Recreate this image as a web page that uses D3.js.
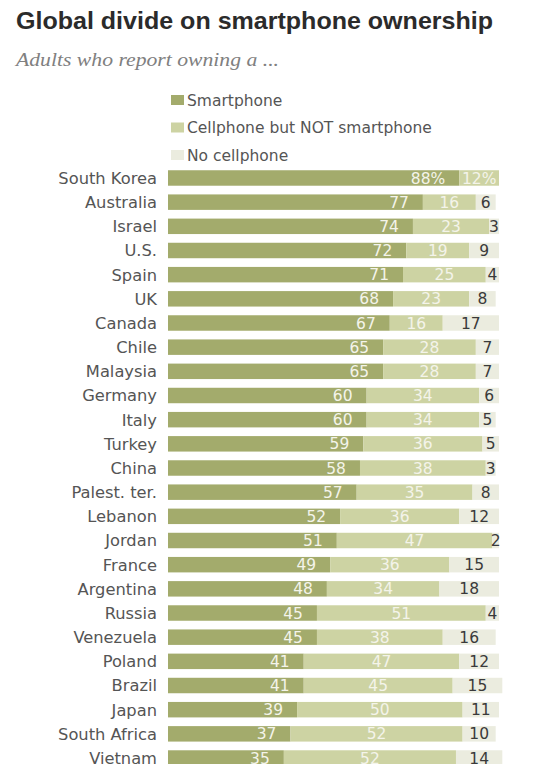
<!DOCTYPE html>
<html>
<head>
<meta charset="utf-8">
<script src="https://cdn.jsdelivr.net/npm/d3@7"></script>
<style>
  html, body { margin: 0; padding: 0; background: #ffffff; }
  svg { display: block; }
</style>
</head>
<body>
<div id="chart"></div>
<script>
// ---- Data ----
const countries = ["South Korea","Australia","Israel","U.S.","Spain","UK","Canada","Chile","Malaysia","Germany","Italy","Turkey","China","Palest. ter.","Lebanon","Jordan","France","Argentina","Russia","Venezuela","Poland","Brazil","Japan","South Africa","Vietnam"];
const smartphone = [88,77,74,72,71,68,67,65,65,60,60,59,58,57,52,51,49,48,45,45,41,41,39,37,35];
const cellOnly   = [12,16,23,19,25,23,16,28,28,34,34,36,38,35,36,47,36,34,51,38,47,45,50,52,52];
const noCell     = [0,6,3,9,4,8,17,7,7,6,5,5,3,8,12,2,15,18,4,16,12,15,11,10,14];
const seriesNames = ["Smartphone","Cellphone but NOT smartphone","No cellphone"];
const seriesColors = ["#a3ab6c","#cdd3a3","#ebecdf"];
const titleText = "Global divide on smartphone ownership";
const subtitleText = "Adults who report owning a ...";

// ---- Layout ----
const W = 554, H = 764;
const svg = d3.select("#chart").append("svg").attr("width", W).attr("height", H);
const FONT = "'DejaVu Sans', sans-serif";

svg.append("text")
  .attr("x", 16).attr("y", 29)
  .attr("font-family", "'Liberation Sans', Arial, sans-serif")
  .attr("font-weight", "bold").attr("font-size", 24)
  .attr("fill", "#2b2b2b")
  .attr("textLength", 477).attr("lengthAdjust", "spacingAndGlyphs")
  .text(titleText);

svg.append("text")
  .attr("x", 16).attr("y", 66)
  .attr("font-family", "'Liberation Serif', Georgia, serif")
  .attr("font-style", "italic").attr("font-size", 19)
  .attr("fill", "#808080")
  .attr("textLength", 263).attr("lengthAdjust", "spacingAndGlyphs")
  .text(subtitleText);

// Legend
const legendY = d3.scalePoint().domain(seriesNames).range([100, 155]);
const lg = svg.append("g");
seriesNames.forEach((name, i) => {
  lg.append("rect")
    .attr("x", 171).attr("y", legendY(name) - 5)
    .attr("width", 13).attr("height", 10)
    .attr("fill", seriesColors[i]);
  lg.append("text")
    .attr("x", 187).attr("y", legendY(name))
    .attr("dy", "0.36em")
    .attr("font-family", FONT).attr("font-size", 15.5)
    .attr("fill", "#555")
    .text(name);
});

// Scales
const x = d3.scaleLinear().domain([0, 100]).range([168, 499]);
const y = d3.scaleBand().domain(countries)
  .range([165.9, 770.1]).paddingInner(0.36).paddingOuter(0.18);

const rows = countries.map((c, i) => ({ country: c, v: [smartphone[i], cellOnly[i], noCell[i]], i }));
const stack = d3.stack().keys([0, 1, 2]).value((d, k) => d.v[k]);
const layers = stack(rows);

// Country labels
svg.append("g").selectAll("text").data(rows).join("text")
  .attr("x", 157).attr("y", d => y(d.country) + y.bandwidth() / 2)
  .attr("dy", "0.36em").attr("text-anchor", "end")
  .attr("font-family", FONT).attr("font-size", 16.3)
  .attr("fill", "#555")
  .text(d => d.country);

// Bars
layers.forEach((layer, k) => {
  const g = svg.append("g");
  g.selectAll("rect").data(layer.filter(s => s.data.v[k] > 0)).join("rect")
    .attr("x", s => x(s[0]))
    .attr("y", s => y(s.data.country))
    .attr("width", s => x(s[1]) - x(s[0]))
    .attr("height", y.bandwidth())
    .attr("fill", seriesColors[k]);

  g.selectAll("text").data(layer.filter(s => s.data.v[k] > 0)).join("text")
    .attr("x", s => k === 0 ? x(s[1]) - 14 : (x(s[0]) + x(s[1])) / 2)
    .attr("y", s => y(s.data.country) + y.bandwidth() / 2)
    .attr("dy", "0.36em")
    .attr("text-anchor", k === 0 ? "end" : "middle")
    .attr("font-family", FONT).attr("font-size", 15.5)
    .attr("fill", k === 2 ? "#3a3a3a" : "#f4f4ea")
    .text(s => s.data.v[k] + (s.data.i === 0 ? "%" : ""));
});
</script>
</body>
</html>
